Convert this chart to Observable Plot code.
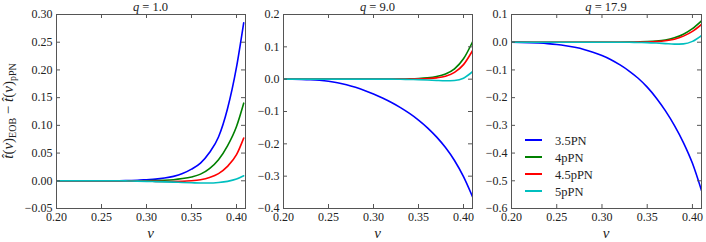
<!DOCTYPE html>
<html>
<head>
<meta charset="utf-8">
<script src="https://cdn.jsdelivr.net/npm/d3@7"></script>
<script src="https://cdn.jsdelivr.net/npm/@observablehq/plot@0.6"></script>
<style>
  html, body { margin: 0; padding: 0; background: #fff; }
  #wrap { position: relative; width: 706px; height: 242px; font-family: "Liberation Serif", "Times New Roman", Times, serif; color: #222; }
  #wrap svg { position: absolute; top: 0; }
  #wrap svg text { font-family: "Liberation Serif", "Times New Roman", Times, serif; }
</style>
</head>
<body>
<div id="wrap"></div>
<script>
// ---- data ----
const nu  = [0.20,0.21,0.22,0.23,0.24,0.25,0.26,0.27,0.28,0.29,0.30,0.31,0.32,0.33,0.34,0.35,0.36,0.37,0.38,0.39,0.40,0.41];
const nuQ1 = [0.20,0.21,0.22,0.23,0.24,0.25,0.26,0.27,0.28,0.29,0.30,0.31,0.32,0.33,0.34,0.35,0.36,0.37,0.38,0.39,0.40,0.408];

const seriesNames = ["3.5PN", "4pPN", "4.5pPN", "5pPN"];
const seriesColors = ["#0000ff", "#008000", "#ff0000", "#00bfbf"];

// q = 1.0
const q1_35 = [0,0,0,0,0,0,0,0,0.0005,0.001,0.002,0.003,0.005,0.008,0.013,0.021,0.032,0.051,0.079,0.130,0.205,0.285];
const q1_4  = [0,0,0,0,0,0,0,0,0,0,0,0.0005,0.001,0.002,0.004,0.007,0.012,0.022,0.038,0.063,0.098,0.140];
const q1_45 = [0,0,0,0,0,0,0,0,-0.0003,-0.0005,-0.0008,-0.001,-0.0012,-0.0012,-0.001,0,0.002,0.006,0.013,0.026,0.047,0.077];
const q1_5  = [0,0,0,0,0,0,0,0,-0.0003,-0.0006,-0.001,-0.0015,-0.002,-0.0025,-0.003,-0.0035,-0.004,-0.004,-0.003,-0.001,0.003,0.009];

// q = 9.0
const q9_35 = [0,-0.0002,-0.0007,-0.0017,-0.0035,-0.0065,-0.011,-0.0172,-0.0252,-0.0347,-0.0457,-0.0582,-0.0722,-0.088,-0.106,-0.1265,-0.1505,-0.1785,-0.2115,-0.2515,-0.3015,-0.3635];
const q9_4  = [0,0,0,0,0,0,0,0,0,0,0,0,0,0.0005,0.001,0.002,0.004,0.008,0.016,0.032,0.063,0.115];
const q9_45 = [0,0,0,0,0,0,0,0,0,0,0,0,0,0,0.0003,0.001,0.002,0.004,0.009,0.021,0.045,0.088];
const q9_5  = [0,0,0,0,0,0,0,0,0,0,0,0,0,-0.0003,-0.001,-0.0015,-0.0025,-0.004,-0.005,-0.004,0.003,0.023];

// q = 17.9
const q18_35 = [0,-0.0005,-0.0015,-0.003,-0.005,-0.008,-0.0125,-0.0185,-0.026,-0.036,-0.048,-0.063,-0.082,-0.104,-0.130,-0.162,-0.201,-0.247,-0.300,-0.362,-0.437,-0.535];
const q18_4  = [0,0,0,0,0,0,0,0,0,0,0,0,0,0.0003,0.001,0.002,0.004,0.008,0.016,0.029,0.049,0.077];
const q18_45 = [0,0,0,0,0,0,0,0,0,0,0,0,0,0,0.0005,0.001,0.002,0.005,0.011,0.022,0.039,0.064];
const q18_5  = [0,0,0,0,0,0,0,0,0,0,0,0,0,-0.0003,-0.001,-0.0015,-0.003,-0.005,-0.007,-0.006,0.003,0.024];

const xTicks = [0.20, 0.25, 0.30, 0.35, 0.40];
const yTicksQ1 = [-0.05, 0.00, 0.05, 0.10, 0.15, 0.20, 0.25, 0.30];
const yTicksQ9 = [-0.4, -0.3, -0.2, -0.1, 0.0, 0.1, 0.2];
const yTicksQ18 = [-0.6, -0.5, -0.4, -0.3, -0.2, -0.1, 0.0, 0.1];
const titles = ["1.0", "9.0", "17.9"];

// ---- build ----
const FONT = '"Liberation Serif", "Times New Roman", Times, serif';
function rows(x, arrs) {
  const out = [];
  arrs.forEach((a, k) => a.forEach((v, i) => out.push({nu: x[i], d: v, s: seriesNames[k]})));
  return out;
}

const panels = [
  {left: 0,   width: 248, mL: 56, mR: 3, x: nuQ1, data: [q1_35, q1_4, q1_45, q1_5], yDom: [-0.05, 0.30], yT: yTicksQ1, fmt: ".2f"},
  {left: 248, width: 228, mL: 35, mR: 4, x: nu,   data: [q9_35, q9_4, q9_45, q9_5], yDom: [-0.4, 0.2], yT: yTicksQ9, fmt: ".1f"},
  {left: 476, width: 230, mL: 35, mR: 5, x: nu,   data: [q18_35, q18_4, q18_45, q18_5], yDom: [-0.6, 0.1], yT: yTicksQ18, fmt: ".1f"}
];

const H = 242, mT = 14, mB = 34, plotH = H - mT - mB, tickLen = 4;
const wrap = document.getElementById("wrap");
const frameColor = "#555";

panels.forEach((p, idx) => {
  const plotW = p.width - p.mL - p.mR;
  const chart = Plot.plot({
    width: p.width, height: H,
    marginLeft: p.mL, marginRight: p.mR, marginTop: mT, marginBottom: mB,
    style: {fontFamily: FONT, fontSize: "12px", color: "#222", background: "transparent", overflow: "visible"},
    x: {domain: [0.20, 0.41], ticks: xTicks, tickFormat: ".2f"},
    y: {domain: p.yDom, ticks: p.yT, tickFormat: p.fmt},
    color: {domain: seriesNames, range: seriesColors},
    marks: [
      Plot.line(rows(p.x, p.data), {x: "nu", y: "d", z: "s", stroke: "s", strokeWidth: 1.6, curve: "monotone-x", clip: true}),
      Plot.tickX(xTicks, {x: d => d, insetTop: plotH - tickLen, stroke: frameColor}),
      Plot.tickX(xTicks, {x: d => d, insetBottom: plotH - tickLen, stroke: frameColor}),
      Plot.tickY(p.yT, {y: d => d, insetRight: plotW - tickLen, stroke: frameColor}),
      Plot.tickY(p.yT, {y: d => d, insetLeft: plotW - tickLen, stroke: frameColor}),
      Plot.axisX({ticks: xTicks, tickSize: 0, tickPadding: 4, label: null, tickFormat: ".2f"}),
      Plot.axisY({ticks: p.yT, tickSize: 0, tickPadding: 4, label: null, tickFormat: p.fmt}),
      Plot.frame({stroke: frameColor})
    ]
  });
  chart.style.left = p.left + "px";
  wrap.appendChild(chart);
});

// ---- overlay text: titles, axis labels, legend ----
const ns = "http://www.w3.org/2000/svg";
const ov = document.createElementNS(ns, "svg");
ov.setAttribute("width", 706); ov.setAttribute("height", 242);
ov.style.left = "0px";
ov.setAttribute("fill", "#222");
let html = "";
panels.forEach((p, i) => {
  const cx = p.left + p.mL + (p.width - p.mL - p.mR) / 2;
  html += `<text x="${cx}" y="11" font-size="12.5" text-anchor="middle"><tspan font-style="italic">q</tspan> = ${titles[i]}</text>`;
  html += `<text x="${cx}" y="238" font-size="15" text-anchor="middle" font-style="italic">ν</text>`;
});
html += `<text transform="translate(13,111) rotate(-90)" font-size="15" text-anchor="middle"><tspan font-style="italic">t&#770;</tspan>(<tspan font-style="italic">ν</tspan>)<tspan font-size="10" dy="3">EOB</tspan><tspan dy="-3"> − </tspan><tspan font-style="italic">t&#770;</tspan>(<tspan font-style="italic">ν</tspan>)<tspan font-size="10" dy="3">pPN</tspan></text>`;
seriesNames.forEach((s, i) => {
  const y = 140 + i * 17;
  html += `<line x1="525" x2="542" y1="${y}" y2="${y}" stroke="${seriesColors[i]}" stroke-width="2"/>`;
  html += `<text x="555" y="${y + 4.5}" font-size="12.5">${s}</text>`;
});
ov.innerHTML = html;
wrap.appendChild(ov);
</script>
</body>
</html>
